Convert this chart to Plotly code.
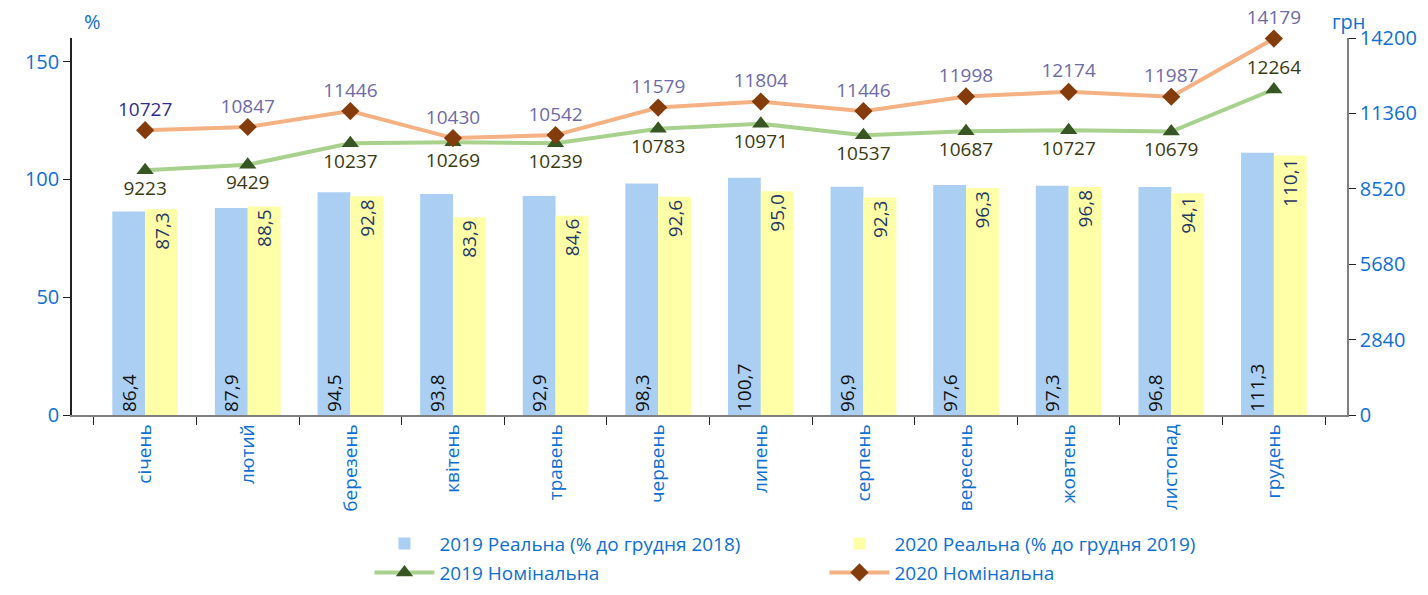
import plotly.graph_objects as go

months = ["січень", "лютий", "березень", "квітень", "травень", "червень",
          "липень", "серпень", "вересень", "жовтень", "листопад", "грудень"]

real_2019 = [86.4, 87.9, 94.5, 93.8, 92.9, 98.3, 100.7, 96.9, 97.6, 97.3, 96.8, 111.3]
real_2020 = [87.3, 88.5, 92.8, 83.9, 84.6, 92.6, 95.0, 92.3, 96.3, 96.8, 94.1, 110.1]
nominal_2019 = [9223, 9429, 10237, 10269, 10239, 10783, 10971, 10537, 10687, 10727, 10679, 12264]
nominal_2020 = [10727, 10847, 11446, 10430, 10542, 11579, 11804, 11446, 11998, 12174, 11987, 14179]

left_ticks = [0, 50, 100, 150]
right_ticks = [0, 2840, 5680, 8520, 11360, 14200]

BLUE_TXT = "#0E6FD0"
FONT = "Open Sans, sans-serif"


def fmt(v):
    return f"{v:.1f}".replace(".", ",")


fig = go.Figure()

fig.add_trace(go.Bar(
    x=months, y=real_2019, name="2019 Реальна (% до грудня 2018)",
    marker=dict(color="#ABCFF2", line_width=0),
    text=[fmt(v) for v in real_2019], textposition="inside",
    insidetextanchor="start", textangle=-90,
    textfont=dict(color="#111111", size=19, family=FONT),
    legend="legend",
))
fig.add_trace(go.Bar(
    x=months, y=real_2020, name="2020 Реальна (% до грудня 2019)",
    marker=dict(color="#FFFFA8", line_width=0),
    text=[fmt(v) for v in real_2020], textposition="inside",
    insidetextanchor="end", textangle=-90,
    textfont=dict(color="#1F3864", size=19, family=FONT),
    legend="legend",
))

pos_2019 = ["bottom center"] * 11 + ["top center"]
fig.add_trace(go.Scatter(
    x=months, y=nominal_2019, yaxis="y2", name="2019 Номінальна",
    mode="lines+markers+text", cliponaxis=False,
    line=dict(color="#A9D18E", width=4),
    marker=dict(symbol="triangle-up", size=15, color="#375623"),
    text=[str(v) for v in nominal_2019], textposition=pos_2019,
    textfont=dict(color="#3A3A10", size=19, family=FONT),
    legend="legend2",
))
colors_2020 = ["#2E2E8A"] + ["#6E6AA6"] * 11
fig.add_trace(go.Scatter(
    x=months, y=nominal_2020, yaxis="y2", name="2020 Номінальна",
    mode="lines+markers+text", cliponaxis=False,
    line=dict(color="#F4B183", width=4),
    marker=dict(symbol="diamond", size=14, color="#843C0C"),
    text=[str(v) for v in nominal_2020], textposition="top center",
    textfont=dict(color=colors_2020, size=19, family=FONT),
    legend="legend2",
))

legend_style = dict(
    orientation="h", xref="container", yref="container",
    x=0.256, xanchor="left", yanchor="middle",
    entrywidth=380, font=dict(size=19, color=BLUE_TXT),
    itemwidth=60, tracegroupgap=0, bgcolor="rgba(0,0,0,0)",
)

# page body has an 8px margin, so the figure is a bit smaller than the window
fig.update_layout(
    width=1412, height=579,
    paper_bgcolor="white", plot_bgcolor="white",
    font=dict(family=FONT, size=19, color=BLUE_TXT),
    margin=dict(l=64, r=73, t=30, b=172, autoexpand=False),
    barmode="group", bargap=0.36, bargroupgap=0,
    showlegend=True,
    legend=dict(legend_style, y=0.075),
    legend2=dict(legend_style, y=0.025),
    xaxis=dict(
        showline=True, linecolor="#7F7F7F", linewidth=1.5,
        ticks="outside", tickson="boundaries", ticklen=8, tickcolor="#222222",
        tickangle=-90, tickfont=dict(size=19, color=BLUE_TXT),
        showgrid=False,
    ),
    yaxis=dict(
        range=[0, 160], tickvals=left_ticks,
        showline=True, linecolor="#222222", linewidth=1.5,
        ticks="outside", ticklen=7, tickcolor="#222222",
        showgrid=False, zeroline=False,
        tickfont=dict(size=20, color=BLUE_TXT),
    ),
    yaxis2=dict(
        range=[0, 14200], tickvals=right_ticks,
        ticktext=[str(v) for v in right_ticks],
        overlaying="y", side="right",
        showline=True, linecolor="#7F7F7F", linewidth=1.5,
        ticks="outside", ticklen=7, tickcolor="#222222",
        showgrid=False, zeroline=False,
        tickfont=dict(size=20, color=BLUE_TXT),
    ),
    annotations=[
        dict(text="%", x=0.0, xref="paper", xanchor="left", xshift=10,
             y=1.0, yref="paper", yanchor="middle", yshift=17,
             showarrow=False, font=dict(size=20, color=BLUE_TXT)),
        dict(text="грн", x=1.0, xref="paper", xanchor="center", xshift=2,
             y=1.0, yref="paper", yanchor="middle", yshift=17,
             showarrow=False, font=dict(size=20, color=BLUE_TXT)),
    ],
)

fig.write_html("out.html")
